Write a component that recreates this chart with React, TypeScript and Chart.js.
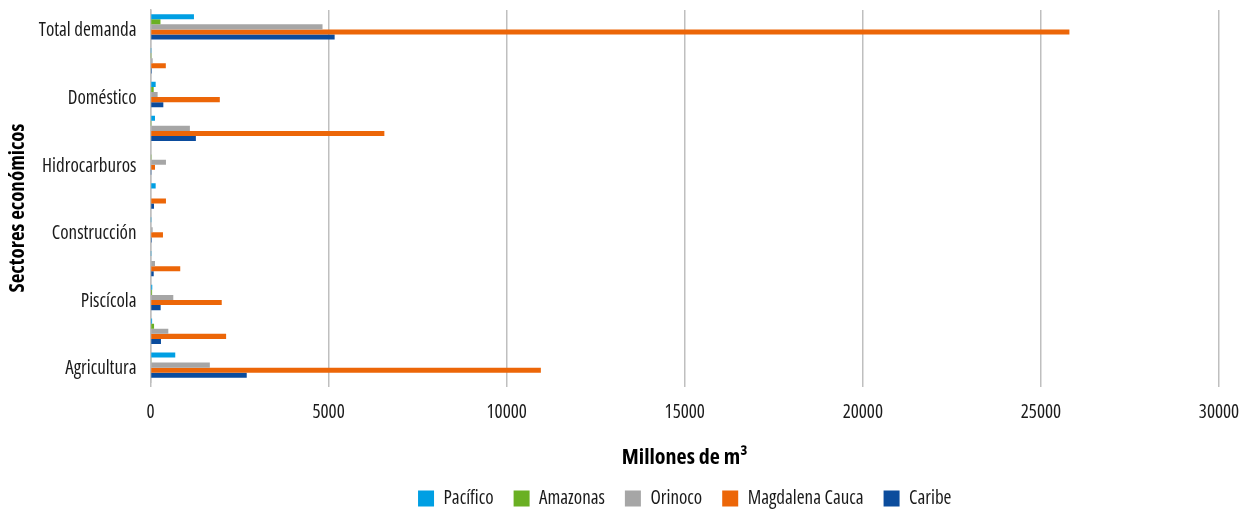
import React, { useEffect, useRef } from 'react';
import { Chart, registerables } from 'chart.js';

Chart.register(...registerables);

// Categories (top to bottom). Only every other label is printed on the axis.
const categories = [
  'Total demanda',
  'Servicios',
  'Doméstico',
  'Energía',
  'Hidrocarburos',
  'Industria',
  'Construcción',
  'Minería',
  'Piscícola',
  'Pecuario',
  'Agricultura',
];

const seriesNames = ['Pacífico', 'Amazonas', 'Orinoco', 'Magdalena Cauca', 'Caribe'];

// Millones de m³
const pacifico = [1220, 5, 145, 126, 0, 145, 5, 5, 50, 45, 695];
const amazonas = [280, 5, 90, 5, 10, 0, 0, 0, 45, 100, 25];
const orinoco = [4830, 60, 200, 1106, 434, 0, 60, 126, 640, 500, 1666];
const magdalenaCauca = [25800, 430, 1946, 6566, 126, 434, 350, 835, 2000, 2123, 10960];
const caribe = [5170, 35, 360, 1274, 5, 98, 35, 90, 285, 294, 2702];

const xMin = 0;
const xMax = 30000;
const xStep = 5000;

const xTitle = 'Millones de m³';
const yTitle = 'Sectores económicos';

const seriesColors = ['#009FE3', '#6AB023', '#A6A6A6', '#EC6608', '#0B4C9D'];

const FONT = "'Open Sans', sans-serif";
const TEXT_W = '500 condensed';
const TITLE_W = 'bold condensed';

// Centre the legend under the plot area instead of the whole canvas.
const legendToPlotCenter = {
  id: 'legendToPlotCenter',
  afterLayout(chart: any) {
    const lg = chart.legend;
    if (lg && chart.chartArea) {
      lg.left = chart.chartArea.left;
      lg.right = chart.chartArea.right;
    }
  },
};

// Vertical axis title, placed a little below the middle of the plot as in the source.
const yAxisTitle = {
  id: 'yAxisTitle',
  afterDraw(chart: any) {
    const { ctx, chartArea } = chart;
    const y = chart.scales.y;
    ctx.save();
    ctx.font = `${TITLE_W} 21px ${FONT}`;
    ctx.fillStyle = '#000';
    ctx.textAlign = 'center';
    ctx.textBaseline = 'middle';
    ctx.translate(y.left + 18, (chartArea.top + chartArea.bottom) / 2 + 12);
    ctx.rotate(-Math.PI / 2);
    ctx.fillText(yTitle, 0, 0);
    ctx.restore();
  },
};

export default function App() {
  const canvasRef = useRef<HTMLCanvasElement | null>(null);

  useEffect(() => {
    if (!canvasRef.current) return;
    const values = [pacifico, amazonas, orinoco, magdalenaCauca, caribe];
    const chart = new Chart(canvasRef.current, {
      type: 'bar',
      data: {
        labels: categories,
        datasets: seriesNames.map((name, i) => ({
          label: name,
          data: values[i],
          backgroundColor: seriesColors[i],
          borderWidth: 0,
          categoryPercentage: 0.75,
          barPercentage: 1.0,
        })),
      },
      options: {
        indexAxis: 'y',
        responsive: false,
        animation: false,
        layout: { padding: { top: 10, bottom: -8, left: 0, right: 0 } },
        plugins: {
          legend: {
            position: 'bottom',
            labels: {
              boxWidth: 16,
              boxHeight: 16,
              padding: 20,
              color: '#1a1a1a',
              font: { family: FONT, size: 19, weight: TEXT_W },
            },
          },
          tooltip: { enabled: false },
        },
        scales: {
          x: {
            min: xMin,
            max: xMax,
            afterFit: (s: any) => {
              s.height = 87;
              s.paddingRight = 20;
              s.paddingLeft = 0;
            },
            ticks: {
              stepSize: xStep,
              padding: 14,
              color: '#1a1a1a',
              font: { family: FONT, size: 19, weight: TEXT_W },
              callback: (v: any) => String(v),
            },
            grid: { color: '#bfbfbf', lineWidth: 1.5, tickLength: 5, drawTicks: true },
            border: { display: false },
            title: {
              display: true,
              text: xTitle,
              color: '#000',
              font: { family: FONT, size: 22, weight: TITLE_W, lineHeight: 1 },
              padding: { top: 23, bottom: 0 },
            },
          },
          y: {
            afterFit: (s: any) => {
              s.width = 150.5;
              s.paddingTop = 0;
              s.paddingBottom = 0;
            },
            grid: { display: false, drawTicks: false },
            border: { display: true, color: '#bfbfbf', width: 1.5 },
            ticks: {
              autoSkip: false,
              padding: 14,
              labelOffset: 4,
              color: '#1a1a1a',
              font: { family: FONT, size: 19, weight: TEXT_W },
              callback: (_v: any, i: number) => (i % 2 === 0 ? categories[i] : ''),
            },
            title: { display: false },
          },
        },
      },
      plugins: [legendToPlotCenter, yAxisTitle],
    } as any);
    return () => chart.destroy();
  }, []);

  return (
    <div style={{ position: 'fixed', left: 0, top: 0, width: 1239, height: 510, background: '#fff' }}>
      <canvas ref={canvasRef} width={1239} height={510} style={{ display: 'block' }} />
    </div>
  );
}
